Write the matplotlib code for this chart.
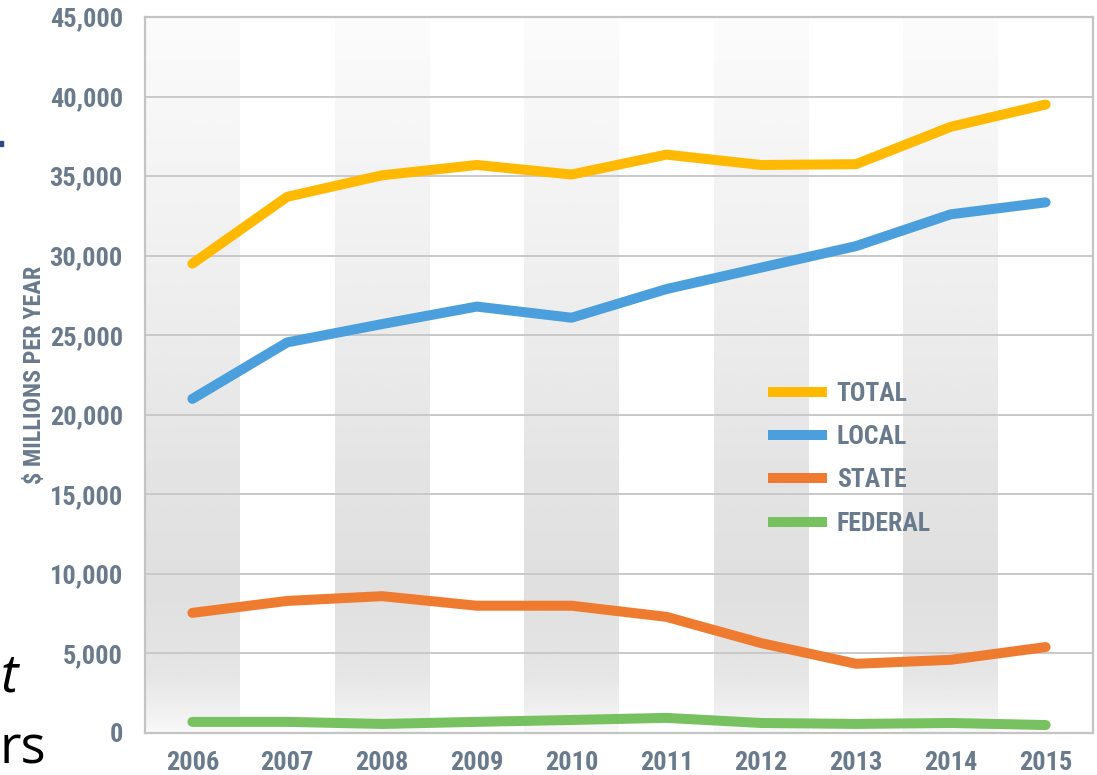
import matplotlib
matplotlib.use("Agg")
import matplotlib.pyplot as plt
import numpy as np
from matplotlib import font_manager as fm
from matplotlib.patches import Rectangle

years = [2006, 2007, 2008, 2009, 2010, 2011, 2012, 2013, 2014, 2015]
total = [29500, 33700, 35050, 35700, 35100, 36350, 35700, 35750, 38100, 39500]
local = [21000, 24550, 25700, 26800, 26100, 27900, 29250, 30600, 32600, 33350]
state = [7550, 8300, 8600, 8000, 8000, 7300, 5650, 4350, 4600, 5400]
federal = [700, 700, 570, 700, 820, 950, 630, 570, 630, 500]
series_names = ["TOTAL", "LOCAL", "STATE", "FEDERAL"]
yticks = [0, 5000, 10000, 15000, 20000, 25000, 30000, 35000, 40000, 45000]
ytick_labels = ["0", "5,000", "10,000", "15,000", "20,000", "25,000",
                "30,000", "35,000", "40,000", "45,000"]
ylabel = "$ MILLIONS PER YEAR"

colors = ["#FFB900", "#4A9FDC", "#EE7B30", "#77C160"]
txt_color = "#687a8c"

names = {f.name for f in fm.fontManager.ttflist}
family = "DejaVu Sans"
for cand in ["Liberation Sans Narrow", "Roboto Condensed", "Open Sans Condensed",
             "DejaVu Sans Condensed", "Noto Sans Condensed"]:
    if cand in names:
        family = cand
        break

W, H = 1097, 775
fig = plt.figure(figsize=(W / 100, H / 100), dpi=100)
ax = fig.add_axes([145 / W, 1 - 733 / H, (1093 - 145) / W, (733 - 17) / H])

# shaded alternating bands with vertical gradient
fy = np.array([0.0, 0.03, 0.08, 0.2, 0.35, 0.6, 1.0])
gv = np.array([0.975, 0.94, 0.9, 0.875, 0.89, 0.93, 0.985])
yy = np.linspace(0, 1, 300)
grad = np.interp(yy, fy, gv)[::-1].reshape(-1, 1)
for i, yr in enumerate(years):
    if i % 2 == 0:
        ax.imshow(grad, cmap="gray", vmin=0, vmax=1, aspect="auto",
                  extent=[yr - 0.5, yr + 0.5, 0, 45000], zorder=0,
                  interpolation="bilinear")

data = [total, local, state, federal]
for name, vals, c in zip(series_names, data, colors):
    ax.plot(years, vals, color=c, lw=7.2, solid_capstyle="round",
            solid_joinstyle="round", label=name, zorder=3)

ax.set_xlim(2005.5, 2015.5)
ax.set_ylim(0, 45000)
ax.set_yticks(yticks)
ax.set_yticklabels(ytick_labels)
ax.set_xticks(years)
ax.set_xticklabels([str(y) for y in years])
ax.grid(axis="y", color="#c9c9c9", lw=1.4, zorder=1)
for gl in ax.get_ygridlines():
    gl.set_zorder(1)
ax.tick_params(length=0, colors=txt_color, labelsize=19)
ax.tick_params(axis="y", pad=16)
ax.tick_params(axis="x", pad=13)
for lab in ax.get_xticklabels() + ax.get_yticklabels():
    lab.set_fontfamily(family)
    lab.set_fontweight("bold")
    lab.set_color(txt_color)
for s in ax.spines.values():
    s.set_color("#c4c4c4")
    s.set_linewidth(1.6)

fig.text(35 / W, 1 - 375 / H, ylabel, rotation=90, ha="center", va="center",
         fontsize=17.5, fontweight="bold", color=txt_color, family=family)

leg = ax.legend(loc="upper left", bbox_to_anchor=(755 / W, 1 - 369 / H),
                bbox_transform=fig.transFigure, frameon=False,
                prop={"family": family, "weight": "bold", "size": 18.5},
                handlelength=2.3, handletextpad=0.38, labelspacing=0.75,
                borderpad=0)
for t in leg.get_texts():
    t.set_color(txt_color)
for h in leg.get_lines():
    h.set_linewidth(7.2)
    h.set_solid_capstyle("butt")

# stray slide fragments at left edge
fig.text(1 / W, 1 - 691 / H, "t", fontsize=38, style="italic", color="black",
         ha="left", va="baseline", family="Open Sans")
fig.text(0 / W, 1 - 763 / H, "rs", fontsize=38, color="black",
         ha="left", va="baseline", family="Open Sans")
fig.patches.append(Rectangle((0, 1 - 146 / H), 3 / W, 5 / H,
                             transform=fig.transFigure, color="#2a4a7a"))

fig.savefig("out.png", dpi=100)
